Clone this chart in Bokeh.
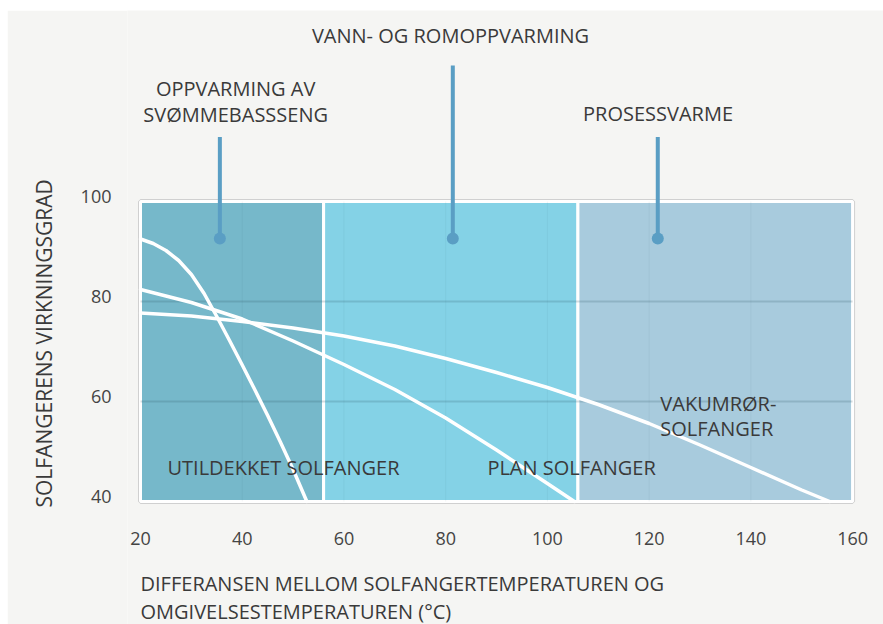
from bokeh.plotting import figure
from bokeh.models import Range1d, FixedTicker, Title, LinearAxis, Spacer
from bokeh.layouts import column, row
from bokeh.core.properties import value
from bokeh.embed import file_html
from bokeh.resources import INLINE

# ---------------- data ----------------
x_ticks = [20, 40, 60, 80, 100, 120, 140, 160]
y_ticks = [40, 60, 80, 100]
y_grid_ticks = [60, 80]
x_grid_ticks = [40, 60, 80, 100, 120, 140]

zone_labels = ["OPPVARMING AV\nSVØMMEBASSSENG", "VANN- OG ROMOPPVARMING", "PROSESSVARME"]
zone_start = [20, 56, 106]
zone_end = [56, 106, 160]
zone_marker_x = [35.6, 81.4, 121.7]
zone_marker_top = [112.9, 127.2, 112.9]
zone_marker_level = 92.6

unglazed_temp = [20, 22.5, 25, 27.5, 30, 32.5, 35, 37.5, 40, 42.5, 45, 47.5, 50, 52.7]
unglazed_eff = [92.5, 91.6, 90.2, 88.2, 85.4, 81.6, 77.0, 72.2, 67.3, 62.3, 57.2, 51.9, 46.4, 40.0]

flat_temp = [20, 30, 40, 50, 60, 70, 80, 90, 100, 105.3]
flat_eff = [82.4, 79.8, 76.5, 72.1, 67.4, 62.4, 56.7, 50.3, 43.6, 40.0]

vacuum_temp = [20, 30, 40, 50, 60, 70, 80, 90, 100, 110, 120, 130, 140, 150, 155.5]
vacuum_eff = [77.7, 77.1, 76.0, 74.7, 73.1, 71.1, 68.6, 65.8, 62.8, 59.4, 55.6, 51.3, 46.8, 42.3, 40.0]

collector_labels = ["UTILDEKKET SOLFANGER", "PLAN SOLFANGER", "VAKUMRØR-\nSOLFANGER"]

y_title = "SOLFANGERENS VIRKNINGSGRAD"
x_title_lines = ["DIFFERANSEN MELLOM SOLFANGERTEMPERATUREN OG", "OMGIVELSESTEMPERATUREN (°C)"]

# ---------------- styles ----------------
BG = "#f5f5f3"
ZONE_COLORS = ["#76b8ca", "#84d2e6", "#a8cbdd"]
STEM = "#5a9ec4"
GRID = "#2f5563"
TXT = "#3a3a3a"
FONT = "Open Sans"
FS = "20px"
TICK_FS = "18px"

# the frame covers the whole drawing area; the chart box is 20..160 x 40..100
X_LO, X_HI = 17.44, 166.08
Y_LO, Y_HI = 15.4, 138.2

p = figure(width=876, height=614,
           x_range=Range1d(X_LO, X_HI), y_range=Range1d(Y_LO, Y_HI),
           x_axis_location=None, y_axis_location=None,
           output_backend="svg", toolbar_location=None,
           min_border_left=120, min_border_right=0,
           min_border_top=0, min_border_bottom=0,
           background_fill_color=BG, border_fill_color=BG,
           outline_line_color=None)
p.xgrid.grid_line_color = None
p.ygrid.grid_line_color = None

# chart box outline + zones
p.quad(left=[zone_start[0]], right=[zone_end[-1]], bottom=[y_ticks[0]], top=[y_ticks[-1]],
       fill_color=None, line_color="#d0d0d0", line_width=5, level="image")
p.quad(left=zone_start, right=zone_end, bottom=y_ticks[0], top=y_ticks[-1],
       fill_color=ZONE_COLORS, line_color="white", line_width=3, level="image")

# grid lines inside the chart box
p.segment(x0=x_grid_ticks, y0=y_ticks[0], x1=x_grid_ticks, y1=y_ticks[-1],
          line_color=GRID, line_alpha=0.06, line_width=1, level="underlay")
p.segment(x0=x_ticks[0], y0=y_grid_ticks, x1=x_ticks[-1], y1=y_grid_ticks,
          line_color=GRID, line_alpha=0.2, line_width=2, level="underlay")

# curves
for xs, ys in [(unglazed_temp, unglazed_eff), (flat_temp, flat_eff), (vacuum_temp, vacuum_eff)]:
    p.line(xs, ys, line_color="white", line_width=3.5, line_cap="round", line_join="round")

# application markers
p.segment(x0=zone_marker_x, y0=zone_marker_level, x1=zone_marker_x, y1=zone_marker_top,
          line_color=STEM, line_width=4)
p.scatter(zone_marker_x, zone_marker_level, size=12, fill_color=STEM, line_color=None)

# zone labels
text_kw = dict(text_font=value(FONT), text_font_size=FS, text_color=TXT,
               text_baseline="middle", text_line_height=0.94)
p.text(x=[38.7], y=[120.0], text=[zone_labels[0]], text_align="center", **text_kw)
p.text(x=[80.95], y=[133.2], text=[zone_labels[1]], text_align="center", **text_kw)
p.text(x=[121.75], y=[117.6], text=[zone_labels[2]], text_align="center", **text_kw)

# collector labels
p.text(x=[25.3], y=[46.9], text=[collector_labels[0]], text_align="left", **text_kw)
p.text(x=[88.2], y=[46.9], text=[collector_labels[1]], text_align="left", **text_kw)
p.text(x=[122.2], y=[57.1], text=[collector_labels[2]], text_align="left", **text_kw)

# x-axis title (two lines, left aligned under the chart box)
p.text(x=[x_ticks[0]], y=[20.8], text=["\n".join(x_title_lines)], text_align="left",
       text_font=value(FONT), text_font_size=FS, text_color=TXT,
       text_baseline="middle", text_line_height=1.066)

# x axis fixed at the bottom edge of the chart box
xa = LinearAxis(ticker=FixedTicker(ticks=x_ticks), fixed_location=y_ticks[0])
xa.major_label_standoff = 24
p.add_layout(xa, "below")

# y axis: tick labels sit just above their grid line, as in the original
p.extra_y_ranges = {"labels": Range1d(Y_LO - 1.1, Y_HI - 1.1)}
ya = LinearAxis(y_range_name="labels", ticker=FixedTicker(ticks=y_ticks),
                bounds=(y_ticks[0], y_ticks[-1]))
ya.major_label_standoff = 10
p.add_layout(ya, "left")

for ax in (xa, ya):
    ax.axis_line_color = None
    ax.major_tick_line_color = None
    ax.minor_tick_line_color = None
    ax.major_label_text_font = FONT
    ax.major_label_text_font_size = TICK_FS
    ax.major_label_text_color = "#444444"

p.add_layout(Title(text=y_title, align="left", text_font=FONT, text_font_size="21px",
                   text_font_style="normal", text_color=TXT, standoff=39, offset=117), "left")

root = column(Spacer(width=883, height=10), row(Spacer(width=7, height=614), p))
open("out.html", "w").write(file_html(root, INLINE))
